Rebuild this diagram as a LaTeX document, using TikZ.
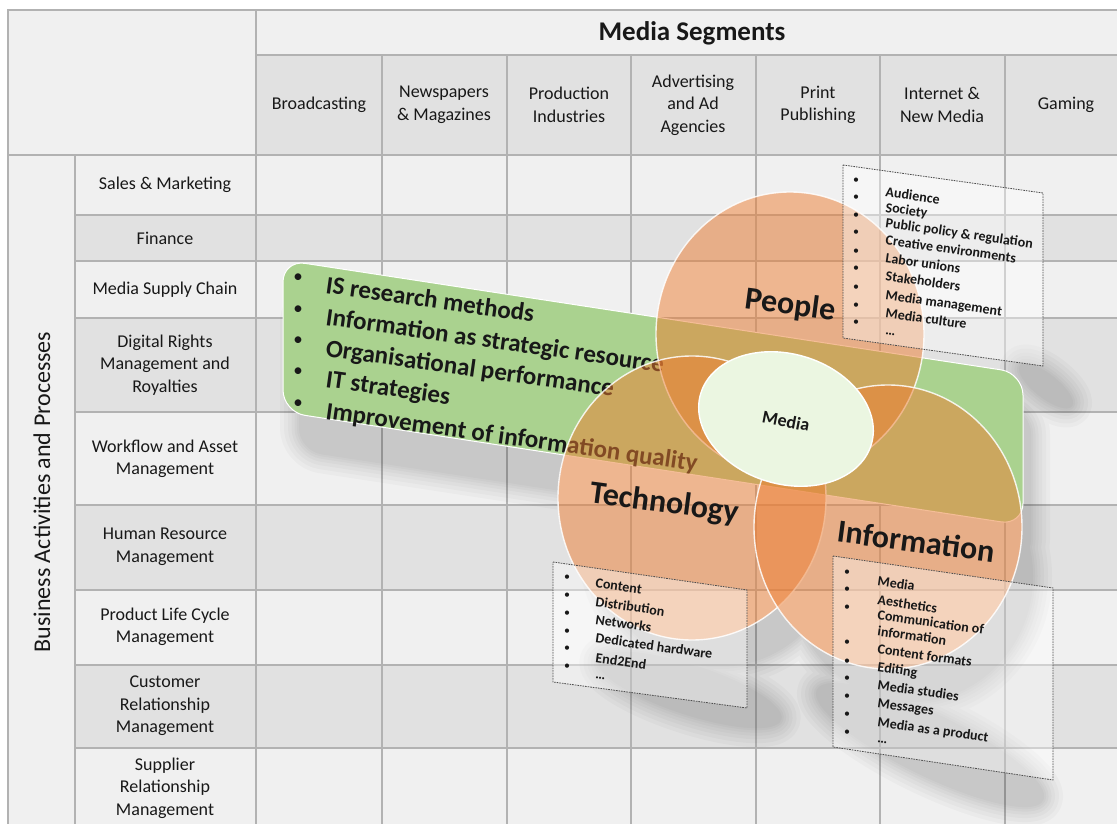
\documentclass[tikz,border=0pt]{standalone}
\usepackage{fontspec}
\setmainfont{Carlito}
\usetikzlibrary{shapes.geometric}

\definecolor{cellL}{HTML}{F0F0F0}
\definecolor{cellD}{HTML}{E1E1E1}
\definecolor{gridC}{HTML}{B2B2B2}
\definecolor{bandG}{HTML}{AAD28F}
\definecolor{venn}{HTML}{ED7D31}
\definecolor{core}{HTML}{EBF6E1}
\definecolor{ink}{HTML}{181818}

\begin{document}
\begin{tikzpicture}[x=1pt, y=-1pt,
  gridline/.style={draw=gridC, line width=1.6pt},
  cell/.style={font=\fontsize{18}{22.5}\selectfont, align=center, text=ink, inner sep=0pt},
  bandtxt/.style={font=\bfseries\fontsize{25}{30}\selectfont, anchor=base west, rotate=-8, inner sep=0pt, text=ink},
  bandbul/.style={font=\fontsize{19}{22}\selectfont, inner sep=0pt, text=ink},
  itemtxt/.style={font=\bfseries\fontsize{14}{16}\selectfont, anchor=base west, rotate=-8, inner sep=0pt, text=ink},
  itembul/.style={font=\fontsize{12}{14}\selectfont, inner sep=0pt, text=ink},
  vennc/.style={ellipse, minimum width=268pt, minimum height=284pt, inner sep=0pt,
    fill=venn, fill opacity=0.5, draw=white, draw opacity=0.85, line width=1.4pt},
  vennlab/.style={font=\bfseries\fontsize{32}{36}\selectfont, rotate=-7.5, inner sep=0pt, text=ink},
  listbox/.style={draw=black!70, line width=0.8pt, dash pattern=on 1.6pt off 1pt,
    fill=white, fill opacity=0.4},
  shade/.style={fill=black, draw=black, line join=round},
]
\useasboundingbox (0,0) rectangle (1117,824);
\clip (0,0) rectangle (1117,824);

% ---------- matrix background ----------
\fill[white] (0,0) rectangle (1117,824);
\fill[cellL] (8,10) rectangle (1117,824);
\fill[cellD] (256,55) rectangle (1117,155);
\foreach \a/\b in {215/261, 318/412, 505/590, 665/748}
  \fill[cellD] (75,\a) rectangle (1117,\b);

% ---------- grid lines ----------
\draw[gridline] (1117,10) -- (8,10) -- (8,824);
\draw[gridline] (256,55) -- (1117,55);
\draw[gridline] (8,155) -- (1117,155);
\foreach \y in {215,261,318,412,505,590,665,748}
  \draw[gridline] (75,\y) -- (1117,\y);
\draw[gridline] (75,155) -- (75,824);
\draw[gridline] (256,10) -- (256,824);
\foreach \x in {382,507,631,756,880,1005}
  \draw[gridline] (\x,55) -- (\x,824);

% ---------- headers ----------
\node[font=\bfseries\fontsize{27}{30}\selectfont, text=ink] (segments) at (692,33) {Media Segments};
\node[cell] (cBroad) at (319,105) {Broadcasting};
\node[cell] (cNews)  at (444,105) {Newspapers\\\& Magazines};
\node[cell] (cProd)  at (569,105) {Production\\Industries};
\node[cell] (cAdv)   at (693,105) {Advertising\\and Ad\\Agencies};
\node[cell] (cPrint) at (818,105) {Print\\Publishing};
\node[cell] (cNet)   at (942,105) {Internet \&\\New Media};
\node[cell] (cGame)  at (1066,105) {Gaming};

\node[font=\fontsize{24}{28}\selectfont, rotate=90, text=ink] (activities) at (42,492) {Business Activities and Processes};
\node[cell] (rSales)   at (165,185) {Sales \& Marketing};
\node[cell] (rFin)     at (165,238) {Finance};
\node[cell] (rSupply)  at (165,290) {Media Supply Chain};
\node[cell] (rRights)  at (165,365) {Digital Rights\\Management and\\Royalties};
\node[cell] (rWork)    at (165,459) {Workflow and Asset\\Management};
\node[cell] (rHR)      at (165,547) {Human Resource\\Management};
\node[cell] (rPLC)     at (165,627) {Product Life Cycle\\Management};
\node[cell] (rCRM)     at (165,706) {Customer\\Relationship\\Management};
\node[cell] (rSRM)     at (165,788) {Supplier\\Relationship\\Management};

% ---------- soft drop shadow of the overlay (kept out of the translucent circles) ----------
\begin{scope}[even odd rule]
  \clip (0,0) rectangle (1117,824) (790,334) ellipse [x radius=134, y radius=142];
  \begin{scope}
    \clip (0,0) rectangle (1117,824) (692,498) ellipse [x radius=134, y radius=142];
    \begin{scope}
      \clip (0,0) rectangle (1117,824) (888,527) ellipse [x radius=134, y radius=142];
      \begin{scope}[nonzero rule]
      \foreach \w in {40,32,24,17,11,6,2}{
        \begin{scope}[transparency group, opacity=0.024]
          \begin{scope}[shift={(300,300)}, yslant=-0.153]
            \path[shade, line width=\w pt, rounded corners=22pt] (0,0) rectangle (730,150);
          \end{scope}
          \path[shade, line width=\w pt] (718,548) ellipse [x radius=120, y radius=118];
          \path[shade, line width=\w pt] (912,576) ellipse [x radius=120, y radius=125];
          \path[shade, line width=\w pt, rotate around={-18:(690,690)}]
            (690,690) ellipse [x radius=95, y radius=24];
          \path[shade, line width=\w pt, rotate around={-26:(930,745)}]
            (930,745) ellipse [x radius=125, y radius=30];
          \path[shade, line width=\w pt, rotate around={-38:(1046,386)}]
            (1046,386) ellipse [x radius=32, y radius=11];
        \end{scope}
      }
      \end{scope}
    \end{scope}
  \end{scope}
\end{scope}

% ---------- green band of IS topics ----------
\begin{scope}[shift={(283,260)}, yslant=-0.153]
  \path[fill=bandG, draw=white, line width=1pt, rounded corners=22pt]
    (0,0) coordinate (bandNW) rectangle (740,152) coordinate (bandSE);
\end{scope}
\node[bandbul] (gb1) at (298,278) {\textbullet};
\node[bandbul] (gb2) at (298,310) {\textbullet};
\node[bandbul] (gb3) at (298,341) {\textbullet};
\node[bandbul] (gb4) at (298,372) {\textbullet};
\node[bandbul] (gb5) at (298,404) {\textbullet};
\node[bandtxt] (g1) at (325,293) {IS research methods};
\node[bandtxt] (g2) at (325,325) {Information as strategic resource};
\node[bandtxt] (g3) at (325,356) {Organisational performance};
\node[bandtxt] (g4) at (325,387) {IT strategies};
\node[bandtxt] (g5) at (325,419) {Improvement of information quality};

% ---------- Venn circles ----------
\node[vennc] (people) at (790,334) {};
\node[vennc] (tech)   at (692,498) {};
\node[vennc] (info)   at (888,527) {};

\node[ellipse, minimum width=178pt, minimum height=130pt, inner sep=0pt, rotate=-16.5,
      fill=core, draw=white, line width=1.4pt] (media) at (786,419) {};
\node[font=\bfseries\fontsize{18}{20}\selectfont, rotate=-11, text=ink, inner sep=0pt] (mediaT) at (786,421) {Media};

% ---------- list boxes ----------
\path[listbox] (843,165) coordinate (pbNW) -- (1043,193) -- (1043,366) -- (843,338) -- cycle;
\path[listbox] (553,562) coordinate (tbNW) -- (747,590) -- (747,708) -- (553,682) -- cycle;
\path[listbox] (833,556) coordinate (ibNW) -- (1053,588) -- (1053,780) -- (833,747) -- cycle;

% People items
\foreach \by [count=\i] in {181,198,216,233,252,269,288,306,323}
  \node[itembul] (pb\i) at (856,\by) {\textbullet};
\node[itemtxt] (p1) at (885,196.5) {Audience};
\node[itemtxt] (p2) at (885,212) {Society};
\node[itemtxt] (p3) at (885,227.5) {Public policy \& regulation};
\node[itemtxt] (p4) at (885,244.5) {Creative environments};
\node[itemtxt] (p5) at (885,262.5) {Labor unions};
\node[itemtxt] (p6) at (885,280.5) {Stakeholders};
\node[itemtxt] (p7) at (885,299.5) {Media management};
\node[itemtxt] (p8) at (885,317.5) {Media culture};
\node[itemtxt] (p9) at (885,334) {\dots};

% Technology items
\foreach \by [count=\i] in {578,596,614,632,649,667}
  \node[itembul] (tb\i) at (567,\by) {\textbullet};
\node[itemtxt] (t1) at (595,587.5) {Content};
\node[itemtxt] (t2) at (595,606.5) {Distribution};
\node[itemtxt] (t3) at (595,624.5) {Networks};
\node[itemtxt] (t4) at (595,642.5) {Dedicated hardware};
\node[itemtxt] (t5) at (595,662.5) {End2End};
\node[itemtxt] (t6) at (595,678) {\dots};

% Information items
\foreach \by [count=\i] in {573,590,608,643,662,679,697,715,733}
  \node[itembul] (ib\i) at (847,\by) {\textbullet};
\node[itemtxt] (i1) at (877,585.5) {Media};
\node[itemtxt] (i2) at (877,604.5) {Aesthetics};
\node[itemtxt] (i3) at (877,619.5) {Communication of};
\node[itemtxt] (i3b) at (877,635.5) {information};
\node[itemtxt] (i4) at (877,653.5) {Content formats};
\node[itemtxt] (i5) at (877,671.5) {Editing};
\node[itemtxt] (i6) at (877,689.5) {Media studies};
\node[itemtxt] (i7) at (877,707.5) {Messages};
\node[itemtxt] (i8) at (877,726.5) {Media as a product};
\node[itemtxt] (i9) at (877,742) {\dots};

% ---------- circle labels ----------
\node[vennlab] (peopleL) at (790,306) {People};
\node[vennlab] (techL)   at (664,504) {Technology};
\node[vennlab] (infoL)   at (916,541) {Information};
\end{tikzpicture}
\end{document}
